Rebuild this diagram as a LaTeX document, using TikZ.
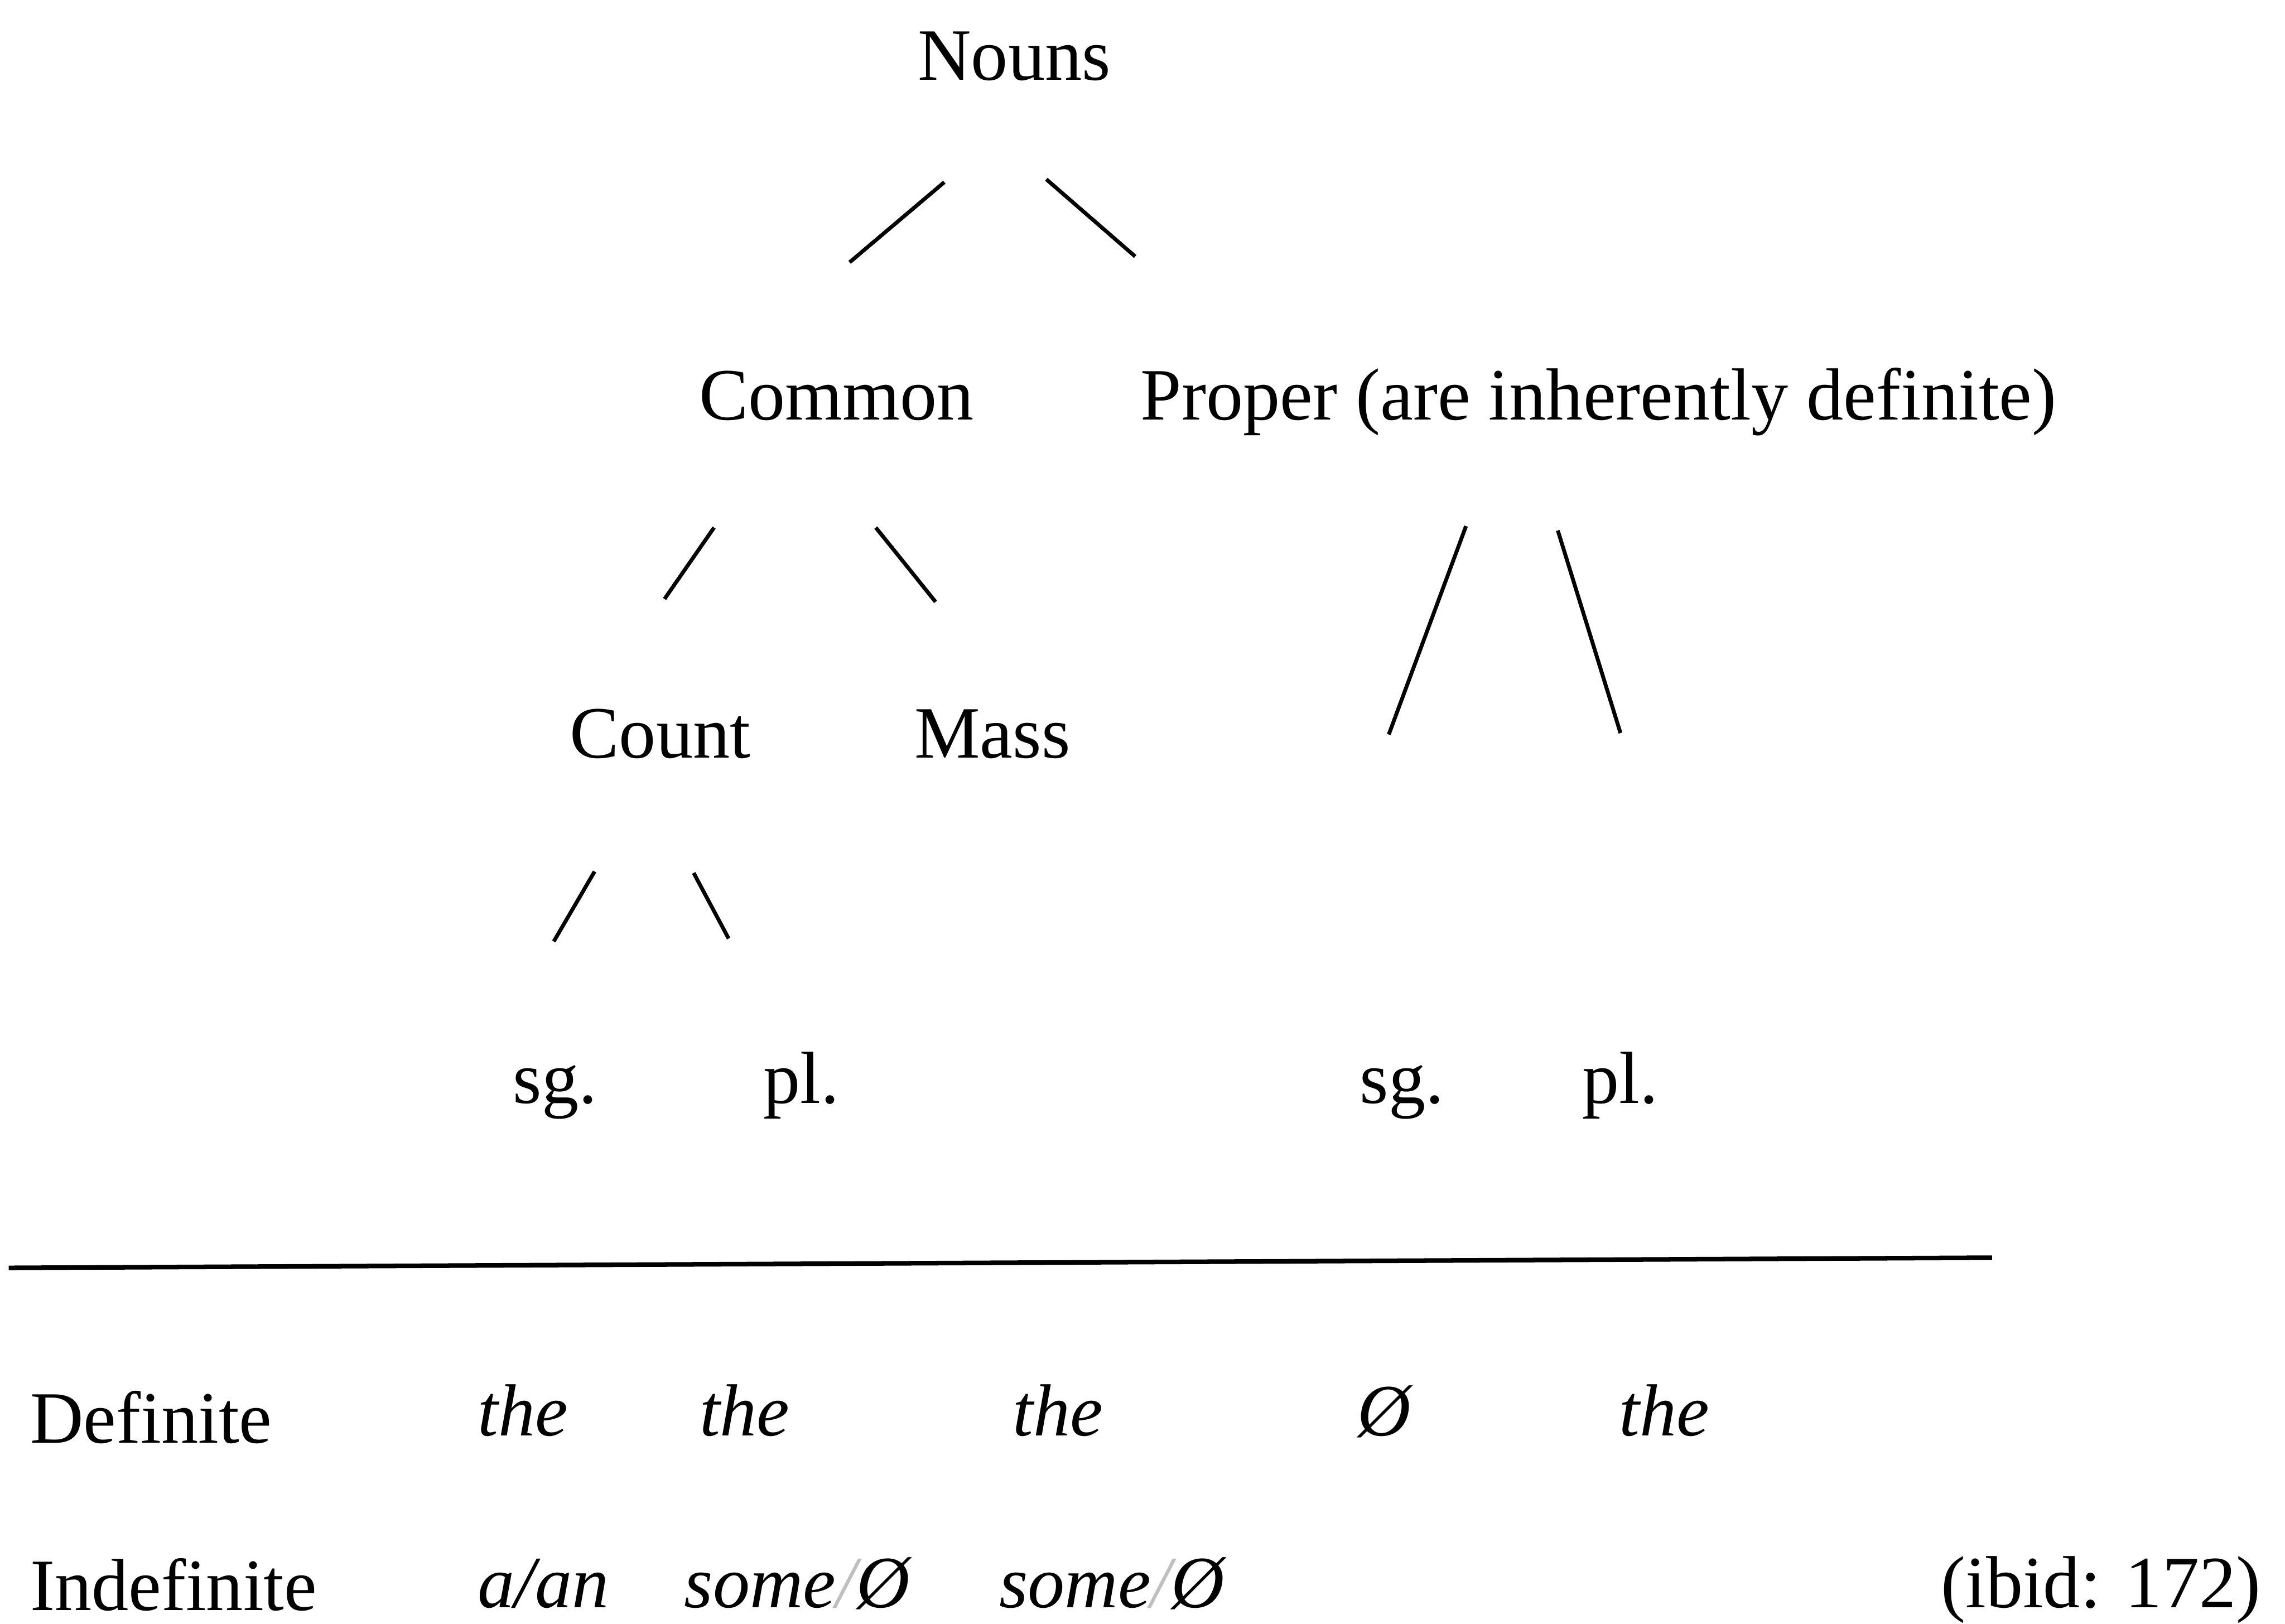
\documentclass[tikz,border=0pt]{standalone}
\usepackage{fontspec}
\setmainfont{Liberation Serif}
\usepackage{xcolor}
\usepackage{tikz}
\usetikzlibrary{positioning,calc}

\begin{document}
\begin{tikzpicture}[
  x=0.01cm, y=-0.01cm,
  font=\fontsize{14.4}{17}\selectfont,
  lbl/.style={inner sep=0pt, anchor=base},
  itl/.style={lbl, font=\fontsize{14.4}{17}\selectfont\itshape},
  branch/.style={line width=0.75pt},
  rule/.style={line width=0.9pt},
]
\useasboundingbox (0,0) rectangle (1568,1114);
% tree
\node[lbl] (nouns) at (696,55) {Nouns};
\node[lbl] (common) at (574,288) {Common};
\node[lbl, anchor=base west] (proper) at (782,288) {Proper (are inherently definite)};
\node[lbl] (count) at (453,520) {Count};
\node[lbl] (mass) at (681,520) {Mass};
\node[lbl] (sgA) at (381,757) {sg.};
\node[lbl] (plA) at (550,757) {pl.};
\node[lbl] (sgB) at (962,757) {sg.};
\node[lbl] (plB) at (1112,757) {pl.};
% branches
\draw[branch] ([shift={(-48,70)}]nouns.base) -- ++(-65,55);
\draw[branch] ([shift={(22,68)}]nouns.base) -- ++(61,53);
\draw[branch] ([shift={(-84,74)}]common.base) -- ++(-34,49);
\draw[branch] ([shift={(27,74)}]common.base) -- ++(41,51);
\draw[branch] ([shift={(224,73)}]proper.base west) -- ++(-53,143);
\draw[branch] ([shift={(287,76)}]proper.base west) -- ++(43,139);
\draw[branch] ([shift={(-45,78)}]count.base) -- ++(-28,48);
\draw[branch] ([shift={(23,79)}]count.base) -- ++(24,45);
% separator
\coordinate (ruleL) at (6,870);
\coordinate (ruleR) at (1367,863);
\draw[rule] (ruleL) -- (ruleR);
% article rows
\node[lbl, anchor=base west] (definite) at (20,990) {Definite};
\node[itl] (defA) at (359,985) {the};
\node[itl] (defB) at (511,985) {the};
\node[itl] (defC) at (726,985) {the};
\node[itl] (defD) at (950,985) {Ø};
\node[itl] (defE) at (1142,985) {the};
\node[lbl, anchor=base west] (indefinite) at (20,1105) {Indefinite};
\node[itl] (indA) at (373,1103) {a/an};
\node[itl] (indB) at (547,1103) {some\textcolor{black!25}{/}Ø};
\node[itl] (indC) at (763,1103) {some\textcolor{black!25}{/}Ø};
\node[lbl, anchor=base east] (source) at (1552,1103) {(ibid: 172)};
\end{tikzpicture}
\end{document}
